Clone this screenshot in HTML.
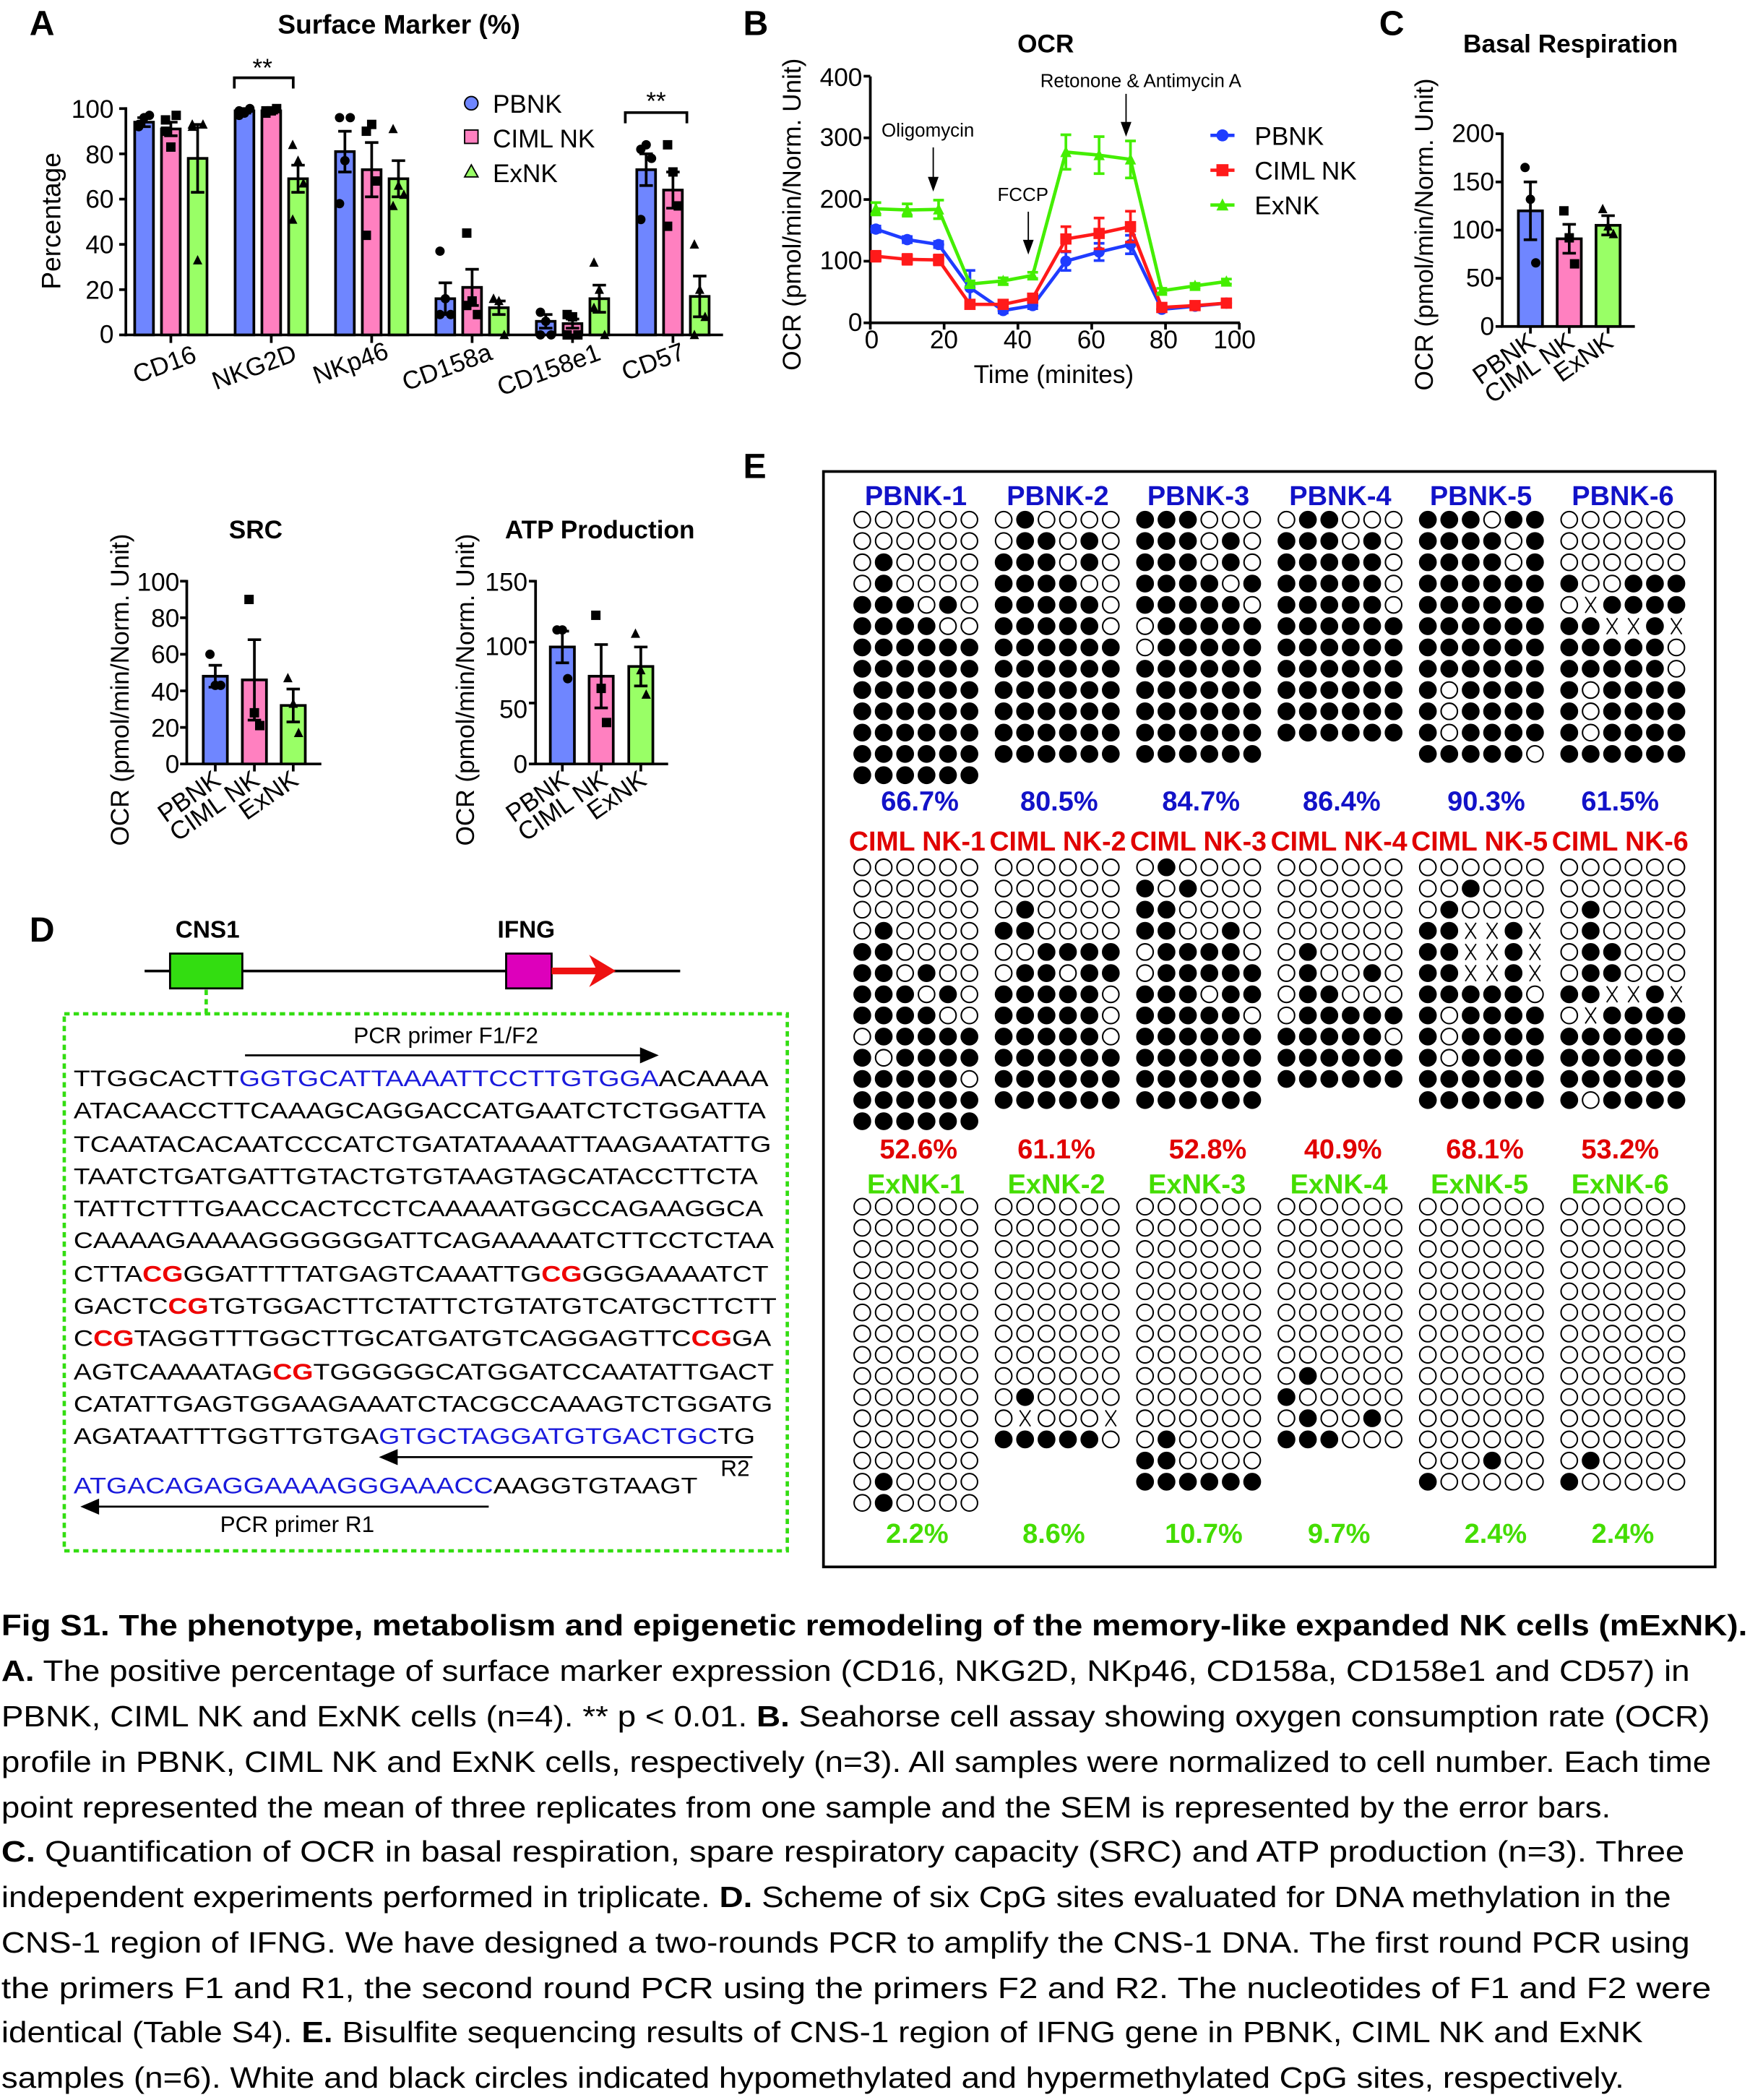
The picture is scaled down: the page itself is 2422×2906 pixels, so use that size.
<!DOCTYPE html>
<html><head><meta charset="utf-8"><style>
html,body{margin:0;padding:0;background:#fff}
svg{display:block}
text{font-family:"Liberation Sans",Arial,sans-serif}
</style></head><body>
<svg id="s" xmlns="http://www.w3.org/2000/svg" width="2422" height="2906" viewBox="0 0 1307 1568">
<rect width="1307" height="1568" fill="#fff"/>
<!-- Panel letters -->
<text x="22" y="26" font-size="26" font-weight="bold">A</text>
<text x="555" y="26" font-size="26" font-weight="bold">B</text>
<text x="1030" y="26" font-size="26" font-weight="bold">C</text>
<text x="22" y="703" font-size="26" font-weight="bold">D</text>
<text x="555" y="357" font-size="26" font-weight="bold">E</text>

<!-- Panel A -->
<text x="298" y="25" font-size="20" font-weight="bold" text-anchor="middle">Surface Marker (%)</text>
<text transform="translate(45,165) rotate(-90)" font-size="20" text-anchor="middle">Percentage</text>
<g font-size="19" text-anchor="end">
<text x="85" y="88">100</text><text x="85" y="122">80</text><text x="85" y="155">60</text><text x="85" y="189">40</text><text x="85" y="223">20</text><text x="85" y="256">0</text>
</g>
<g font-size="19" text-anchor="middle">
<text transform="translate(125,278) rotate(-20)">CD16</text>
<text transform="translate(192,280) rotate(-20)">NKG2D</text>
<text transform="translate(264,277) rotate(-20)">NKp46</text>
<text transform="translate(336,280) rotate(-20)">CD158a</text>
<text transform="translate(412,282) rotate(-20)">CD158e1</text>
<text transform="translate(490,276) rotate(-20)">CD57</text>
</g>
<text x="196" y="57" font-size="19" text-anchor="middle">**</text>
<path d="M175,66V58H219V66" fill="none" stroke="#000" stroke-width="2"/>
<text x="490" y="82" font-size="19" text-anchor="middle">**</text>
<path d="M467,92V84H513V92" fill="none" stroke="#000" stroke-width="2"/>
<circle cx="352" cy="77" r="5" fill="#6f86ff" stroke="#000" stroke-width="1"/>
<text x="368" y="84" font-size="19">PBNK</text>
<rect x="347" y="97" width="10" height="10" fill="#ff80c0" stroke="#000" stroke-width="1"/>
<text x="368" y="110" font-size="19">CIML NK</text>
<path d="M352,123 L357,132 L347,132Z" fill="#99ff66" stroke="#000" stroke-width="1"/>
<text x="368" y="136" font-size="19">ExNK</text>

<!-- Panel B -->
<text x="781" y="39" font-size="19" font-weight="bold" text-anchor="middle">OCR</text>
<text transform="translate(598,160) rotate(-90)" font-size="19" text-anchor="middle">OCR (pmol/min/Norm. Unit)</text>
<g font-size="19" text-anchor="end">
<text x="644" y="64">400</text><text x="644" y="109">300</text><text x="644" y="155">200</text><text x="644" y="201">100</text><text x="644" y="247">0</text>
</g>
<g font-size="19" text-anchor="middle">
<text x="651" y="260">0</text><text x="705" y="260">20</text><text x="760" y="260">40</text><text x="815" y="260">60</text><text x="869" y="260">80</text><text x="922" y="260">100</text>
</g>
<text x="787" y="286" font-size="19" text-anchor="middle">Time (minites)</text>
<text x="693" y="102" font-size="14" text-anchor="middle">Oligomycin</text>
<text x="764" y="150" font-size="14" text-anchor="middle">FCCP</text>
<text x="852" y="65" font-size="14" text-anchor="middle">Retonone &amp; Antimycin A</text>
<text x="937" y="108" font-size="19">PBNK</text>
<text x="937" y="134" font-size="19">CIML NK</text>
<text x="937" y="160" font-size="19">ExNK</text>

<!-- Panel C -->
<text x="1173" y="39" font-size="19" font-weight="bold" text-anchor="middle">Basal Respiration</text>
<text transform="translate(1070,175) rotate(-90)" font-size="19" text-anchor="middle">OCR (pmol/min/Norm. Unit)</text>
<g font-size="19" text-anchor="end">
<text x="1116" y="106">200</text><text x="1116" y="142">150</text><text x="1116" y="178">100</text><text x="1116" y="214">50</text><text x="1116" y="250">0</text>
</g>
<g font-size="19" text-anchor="end">
<text transform="translate(1148,258) rotate(-35)">PBNK</text>
<text transform="translate(1177,258) rotate(-35)">CIML NK</text>
<text transform="translate(1206,258) rotate(-35)">ExNK</text>
</g>

<!-- SRC -->
<text x="191" y="402" font-size="19" font-weight="bold" text-anchor="middle">SRC</text>
<text transform="translate(96,515) rotate(-90)" font-size="19" text-anchor="middle">OCR (pmol/min/Norm. Unit)</text>
<g font-size="19" text-anchor="end">
<text x="134" y="441">100</text><text x="134" y="468">80</text><text x="134" y="495">60</text><text x="134" y="523">40</text><text x="134" y="550">20</text><text x="134" y="577">0</text>
</g>
<g font-size="19" text-anchor="end">
<text transform="translate(166,585) rotate(-35)">PBNK</text>
<text transform="translate(195,585) rotate(-35)">CIML NK</text>
<text transform="translate(224,585) rotate(-35)">ExNK</text>
</g>
<!-- ATP -->
<text x="448" y="402" font-size="19" font-weight="bold" text-anchor="middle">ATP Production</text>
<text transform="translate(354,515) rotate(-90)" font-size="19" text-anchor="middle">OCR (pmol/min/Norm. Unit)</text>
<g font-size="19" text-anchor="end">
<text x="394" y="441">150</text><text x="394" y="489">100</text><text x="394" y="536">50</text><text x="394" y="577">0</text>
</g>
<g font-size="19" text-anchor="end">
<text transform="translate(426,585) rotate(-35)">PBNK</text>
<text transform="translate(455,585) rotate(-35)">CIML NK</text>
<text transform="translate(484,585) rotate(-35)">ExNK</text>
</g>

<!-- Panel D -->
<text x="155" y="700" font-size="18" font-weight="bold" text-anchor="middle">CNS1</text>
<text x="393" y="700" font-size="18" font-weight="bold" text-anchor="middle">IFNG</text>
<line x1="108" y1="725" x2="508" y2="725" stroke="#000" stroke-width="2"/>
<rect x="127" y="712" width="54" height="26" fill="#33dd11" stroke="#000" stroke-width="1.5"/>
<rect x="378" y="712" width="34" height="26" fill="#dd00bb" stroke="#000" stroke-width="1.5"/>
<line x1="412" y1="725" x2="448" y2="725" stroke="#ee1111" stroke-width="5"/>
<path d="M440,713 L460,725 L440,737 L446,725Z" fill="#ee1111"/>
<line x1="154" y1="739" x2="154" y2="757" stroke="#33dd11" stroke-width="2.5" stroke-dasharray="4,3"/>
<rect x="48" y="757" width="540" height="401" fill="none" stroke="#33dd11" stroke-width="2.5" stroke-dasharray="4,3"/>
<text x="333" y="779" font-size="17" text-anchor="middle">PCR primer F1/F2</text>
<line x1="183" y1="788" x2="486" y2="788" stroke="#000" stroke-width="1.5"/>
<path d="M492,788 L478,782 L478,794Z" fill="#000"/>
<g font-size="17">
<text x="55" y="811" textLength="519" lengthAdjust="spacingAndGlyphs">TTGGCACTT<tspan fill="#1a1adc">GGTGCATTAAAATTCCTTGTGGA</tspan>ACAAAA</text>
<text x="55" y="835" textLength="517" lengthAdjust="spacingAndGlyphs">ATACAACCTTCAAAGCAGGACCATGAATCTCTGGATTA</text>
<text x="55" y="860" textLength="521" lengthAdjust="spacingAndGlyphs">TCAATACACAATCCCATCTGATATAAAATTAAGAATATTG</text>
<text x="55" y="884" textLength="511" lengthAdjust="spacingAndGlyphs">TAATCTGATGATTGTACTGTGTAAGTAGCATACCTTCTA</text>
<text x="55" y="908" textLength="515" lengthAdjust="spacingAndGlyphs">TATTCTTTGAACCACTCCTCAAAAATGGCCAGAAGGCA</text>
<text x="55" y="932" textLength="523" lengthAdjust="spacingAndGlyphs">CAAAAGAAAAGGGGGGATTCAGAAAAATCTTCCTCTAA</text>
<text x="55" y="957" textLength="519" lengthAdjust="spacingAndGlyphs">CTTA<tspan fill="#ee0000" font-weight="bold">CG</tspan>GGATTTTATGAGTCAAATTG<tspan fill="#ee0000" font-weight="bold">CG</tspan>GGGAAAATCT</text>
<text x="55" y="981" textLength="525" lengthAdjust="spacingAndGlyphs">GACTC<tspan fill="#ee0000" font-weight="bold">CG</tspan>TGTGGACTTCTATTCTGTATGTCATGCTTCTT</text>
<text x="55" y="1005" textLength="521" lengthAdjust="spacingAndGlyphs">C<tspan fill="#ee0000" font-weight="bold">CG</tspan>TAGGTTTGGCTTGCATGATGTCAGGAGTTC<tspan fill="#ee0000" font-weight="bold">CG</tspan>GA</text>
<text x="55" y="1030" textLength="523" lengthAdjust="spacingAndGlyphs">AGTCAAAATAG<tspan fill="#ee0000" font-weight="bold">CG</tspan>TGGGGGCATGGATCCAATATTGACT</text>
<text x="55" y="1054" textLength="522" lengthAdjust="spacingAndGlyphs">CATATTGAGTGGAAGAAATCTACGCCAAAGTCTGGATG</text>
<text x="55" y="1078" textLength="509" lengthAdjust="spacingAndGlyphs">AGATAATTTGGTTGTGA<tspan fill="#1a1adc">GTGCTAGGATGTGACTGC</tspan>TG</text>
<text x="55" y="1115" textLength="466" lengthAdjust="spacingAndGlyphs"><tspan fill="#1a1adc">ATGACAGAGGAAAAGGGAAACC</tspan>AAGGTGTAAGT</text>
</g>
<line x1="290" y1="1088" x2="562" y2="1088" stroke="#000" stroke-width="1.5"/>
<path d="M283,1088 L297,1082 L297,1094Z" fill="#000"/>
<text x="549" y="1102" font-size="17" text-anchor="middle">R2</text>
<line x1="67" y1="1125" x2="365" y2="1125" stroke="#000" stroke-width="1.5"/>
<path d="M60,1125 L74,1119 L74,1131Z" fill="#000"/>
<text x="222" y="1144" font-size="17" text-anchor="middle">PCR primer R1</text>

<!-- Panel E -->
<rect x="615" y="352" width="666" height="818" fill="none" stroke="#000" stroke-width="2"/>
<g font-size="20.5" font-weight="bold" text-anchor="middle" fill="#1212c8">
<text x="684" y="377">PBNK-1</text><text x="790" y="377">PBNK-2</text><text x="895" y="377">PBNK-3</text><text x="1001" y="377">PBNK-4</text><text x="1106" y="377">PBNK-5</text><text x="1212" y="377">PBNK-6</text>
<text x="687" y="605">66.7%</text><text x="791" y="605">80.5%</text><text x="897" y="605">84.7%</text><text x="1002" y="605">86.4%</text><text x="1110" y="605">90.3%</text><text x="1210" y="605">61.5%</text>
</g>
<g font-size="20.5" font-weight="bold" text-anchor="middle" fill="#e00000">
<text x="685" y="635" textLength="102" lengthAdjust="spacingAndGlyphs">CIML NK-1</text><text x="790" y="635" textLength="102" lengthAdjust="spacingAndGlyphs">CIML NK-2</text><text x="895" y="635" textLength="102" lengthAdjust="spacingAndGlyphs">CIML NK-3</text><text x="1000" y="635" textLength="102" lengthAdjust="spacingAndGlyphs">CIML NK-4</text><text x="1105" y="635" textLength="102" lengthAdjust="spacingAndGlyphs">CIML NK-5</text><text x="1210" y="635" textLength="102" lengthAdjust="spacingAndGlyphs">CIML NK-6</text>
<text x="686" y="865">52.6%</text><text x="789" y="865">61.1%</text><text x="902" y="865">52.8%</text><text x="1003" y="865">40.9%</text><text x="1109" y="865">68.1%</text><text x="1210" y="865">53.2%</text>
</g>
<g font-size="20.5" font-weight="bold" text-anchor="middle" fill="#44dd00">
<text x="684" y="891">ExNK-1</text><text x="789" y="891">ExNK-2</text><text x="894" y="891">ExNK-3</text><text x="1000" y="891">ExNK-4</text><text x="1105" y="891">ExNK-5</text><text x="1210" y="891">ExNK-6</text>
<text x="685" y="1152">2.2%</text><text x="787" y="1152">8.6%</text><text x="899" y="1152">10.7%</text><text x="1000" y="1152">9.7%</text><text x="1117" y="1152">2.4%</text><text x="1212" y="1152">2.4%</text>
</g>

<!-- Caption -->
<g font-size="22">
<text x="1" y="1221" font-weight="bold" textLength="1304" lengthAdjust="spacingAndGlyphs">Fig S1. The phenotype, metabolism and epigenetic remodeling of the memory-like expanded NK cells (mExNK).</text>
<text x="1" y="1255" textLength="1261" lengthAdjust="spacingAndGlyphs"><tspan font-weight="bold">A.</tspan> The positive percentage of surface marker expression (CD16, NKG2D, NKp46, CD158a, CD158e1 and CD57) in</text>
<text x="1" y="1289" textLength="1276" lengthAdjust="spacingAndGlyphs">PBNK, CIML NK and ExNK cells (n=4). ** p &lt; 0.01. <tspan font-weight="bold">B.</tspan> Seahorse cell assay showing oxygen consumption rate (OCR)</text>
<text x="1" y="1323" textLength="1277" lengthAdjust="spacingAndGlyphs">profile in PBNK, CIML NK and ExNK cells, respectively (n=3). All samples were normalized to cell number. Each time</text>
<text x="1" y="1357" textLength="1202" lengthAdjust="spacingAndGlyphs">point represented the mean of three replicates from one sample and the SEM is represented by the error bars.</text>
<text x="1" y="1390" textLength="1257" lengthAdjust="spacingAndGlyphs"><tspan font-weight="bold">C.</tspan> Quantification of OCR in basal respiration, spare respiratory capacity (SRC) and ATP production (n=3). Three</text>
<text x="1" y="1424" textLength="1247" lengthAdjust="spacingAndGlyphs">independent experiments performed in triplicate. <tspan font-weight="bold">D.</tspan> Scheme of six CpG sites evaluated for DNA methylation in the</text>
<text x="1" y="1458" textLength="1261" lengthAdjust="spacingAndGlyphs">CNS-1 region of IFNG. We have designed a two-rounds PCR to amplify the CNS-1 DNA. The first round PCR using</text>
<text x="1" y="1492" textLength="1277" lengthAdjust="spacingAndGlyphs">the primers F1 and R1, the second round PCR using the primers F2 and R2. The nucleotides of F1 and F2 were</text>
<text x="1" y="1525" textLength="1226" lengthAdjust="spacingAndGlyphs">identical (Table S4). <tspan font-weight="bold">E.</tspan> Bisulfite sequencing results of CNS-1 region of IFNG gene in PBNK, CIML NK and ExNK</text>
<text x="1" y="1559" textLength="1212" lengthAdjust="spacingAndGlyphs">samples (n=6). White and black circles indicated hypomethylated and hypermethylated CpG sites, respectively.</text>
</g>
<g id="dyn"></g>
</svg>
<script>
(function(){
var G=document.getElementById("dyn"),h="";
function L(x1,y1,x2,y2,c,w){h+='<line x1="'+x1+'" y1="'+y1+'" x2="'+x2+'" y2="'+y2+'" stroke="'+(c||"#000")+'" stroke-width="'+(w||2)+'"/>';}
function R(x,y,w,hh,f){h+='<rect x="'+x+'" y="'+y+'" width="'+w+'" height="'+hh+'" fill="'+f+'" stroke="#000" stroke-width="2"/>';}
function mk(t,x,y,s,f){s=s||3.5;f=f||"#000";
 if(t==0)h+='<circle cx="'+x+'" cy="'+y+'" r="'+s+'" fill="'+f+'"/>';
 else if(t==1)h+='<rect x="'+(x-s)+'" y="'+(y-s)+'" width="'+2*s+'" height="'+2*s+'" fill="'+f+'"/>';
 else h+='<path d="M'+x+','+(y-s*1.1)+' L'+(x+s)+','+(y+s*0.9)+' L'+(x-s)+','+(y+s*0.9)+'Z" fill="'+f+'"/>';}
var cols=["#6f86ff","#ff80c0","#99ff66"];
function barset(y0f,cx,w,vals,errs,pts){
 var yb=y0f(0);
 for(var i=0;i<3;i++){var x=cx[i],yt=y0f(vals[i]);R(x-w/2,yt,w,yb-yt,cols[i]);
  var e=errs[i];L(x,y0f(vals[i]-e),x,y0f(vals[i]+e));L(x-5,y0f(vals[i]+e),x+5,y0f(vals[i]+e));L(x-5,y0f(vals[i]-e),x+5,y0f(vals[i]-e));
  (pts[i]||[]).forEach(function(p,j){mk(i,x+((j%3)-1)*4,y0f(p),3.5);});}
}
var yA=function(v){return 250-v*1.69;};
L(94,80,94,251);L(93,250,540,250);
[0,20,40,60,80,100].forEach(function(v){L(89,yA(v),94,yA(v));});
var A=[[94,91,78],[99,99,69],[81,73,69],[16,21,12],[6,5,16],[73,64,17]];
var AE=[[2,3,15],[1,1,6],[9,12,8],[7,8,3],[3,2,6],[7,8,9]];
var AP=[[[92,96,97,93],[95,83,97,90],[92,33,93,93]],[[99,98,100,97],[99,99,100,98],[84,77,67,51]],[[96,77,96,58],[90,93,68,44],[91,66,62,57]],[[37,16,9,9],[45,15,9,13],[16,15,0,16]],[[10,6,0,0],[9,8,0,0],[32,20,0,12]],[[82,84,78,51],[84,72,57,48],[40,20,8,0]]];
for(var g=0;g<6;g++){var t=127.6+g*75;L(t,250,t,256);barset(yA,[t-20,t,t+20],14,A[g],AE[g],AP[g]);}
var xB=function(t){return 650+t*2.756;},yB=function(v){return 241-v*0.4605;};
L(650,57,650,242);L(649,241,926,241);
[0,100,200,300,400].forEach(function(v){L(645,yB(v),650,yB(v));});
[0,20,40,60,80,100].forEach(function(v){L(xB(v),241,xB(v),246);});
var T=[1.5,10,18.5,27,36,44,53,62,70.5,79,88,96.5];
var S=[[152,135,127,57,20,28,100,115,127,22,27,32],[108,103,102,30,30,40,136,145,156,25,28,32],[185,183,184,63,68,77,277,272,265,52,60,67]];
var SE=[[5,5,5,28,4,5,15,14,15,4,4,6],[8,8,8,5,5,5,20,25,25,4,4,4],[10,10,15,5,5,5,28,30,30,4,4,4]];
var lc=["#1f3cff","#ff1a1a","#44ee00"];
for(var s=0;s<3;s++){var d="";for(var i=0;i<12;i++){d+=(i?"L":"M")+xB(T[i])+","+yB(S[s][i]);}
 h+='<path d="'+d+'" fill="none" stroke="'+lc[s]+'" stroke-width="2.5"/>';
 for(var i=0;i<12;i++){var x=xB(T[i]),a=yB(S[s][i]+SE[s][i]),b=yB(S[s][i]-SE[s][i]);L(x,a,x,b,lc[s],2);L(x-4,a,x+4,a,lc[s],2);L(x-4,b,x+4,b,lc[s],2);mk(s,x,yB(S[s][i]),4.2,lc[s]);}}
L(697,110,697,137,"#000",1);h+='<path d="M697,143 L693,132 L701,132Z"/>';
L(768,158,768,184,"#000",1);h+='<path d="M768,190 L764,179 L772,179Z"/>';
L(841,70,841,96,"#000",1);h+='<path d="M841,102 L837,91 L845,91Z"/>';
for(var s=0;s<3;s++){var y=101+s*26;L(904,y,922,y,lc[s],2.5);mk(s,913,y,4.5,lc[s]);}
var yC=function(v){return 243.7-v*0.7195;};
L(1122,99,1122,244);L(1121,243.7,1221,243.7);
[0,50,100,150,200].forEach(function(v){L(1117,yC(v),1122,yC(v));});
[1143,1172,1201].forEach(function(x){L(x,243.7,x,249);});
barset(yC,[1143,1172,1201],18,[120,91,105],[30,15,10],[[165,132,66],[120,92,65],[122,104,96]]);
var yS=function(v){return 570.4-v*1.365;};
L(139.5,433,139.5,571);L(138.5,570.4,240,570.4);
[0,20,40,60,80,100].forEach(function(v){L(134.5,yS(v),139.5,yS(v));});
[160.8,190,219].forEach(function(x){L(x,570.4,x,576);});
barset(yS,[160.8,190,219],18,[48,46,32],[6,22,9],[[60,43,43],[90,28,21],[47,33,17]]);
var yT=function(v){return 570.4-v*0.91;};
L(400,433,400,571);L(399,570.4,499,570.4);
[0,50,100,150].forEach(function(v){L(395,yT(v),400,yT(v));});
[420,449,478.6].forEach(function(x){L(x,570.4,x,576);});
barset(yT,[420,449,478.6],18,[96,72,80],[13,26,16],[[110,110,70],[122,62,34],[107,77,57]]);
function expand(arr){var o=[];arr.forEach(function(r){var m=/^(\S+)\*(\d+)$/.exec(r);if(m){for(var k=0;k<+m[2];k++)o.push(m[1]);}else o.push(r);});return o;}
var P=[
[["000000","000000","010000","010000","111010","111100","111111*7"],
 ["010000","011010","111010","111100","111110","111110","111111*6"],
 ["111000","111010","111010","111101","111110","011111","011111","111111*5"],
 ["011000","111010","111110","111110","111110","111111*6"],
 ["111011","111101","111101","111111*5","101111","101111","101111","111110"],
 ["000000","000000","000000","100111","0x1111","11xx1x","111110","111110","101111","101111","101111","111111"]],
[["000000","000000","000000","010000","110000","110100","111010","111100","011111","101111","111110","111111","111111"],
 ["000000","000000","010000","110000","001111","011011","111110","111110","111110","111111*3"],
 ["010000","101000","110000","110010","011110","011111","111011","111110","111111*4"],
 ["000000*4","010000","010010","011000","011111","111110","111111*2"],
 ["000000","001000","010000","11xx1x","11xx1x","11xx1x","111110","101111","101111","101111","111111*2"],
 ["000000","000000","010000","010000","011000","011000","11xx1x","0x1111","111111*3","101111"]],
[["000000*13","010000","010000"],
 ["000000*9","010000","0x000x","111110"],
 ["000000*11","010000","110000","111111"],
 ["000000*8","010000","100000","010010","111000"],
 ["000000*12","000100","100000"],
 ["000000*12","010000","100000"]]];
var base=[388,647.6,901],pitch=[15.9,15.8,15.8];
for(var sec=0;sec<3;sec++)for(var g=0;g<6;g++){var rows=expand(P[sec][g]);
 for(var r=0;r<rows.length;r++)for(var c=0;c<6;c++){var x=644+g*105.6+c*16,y=base[sec]+r*pitch[sec],ch=rows[r][c];
  if(ch=="x"){L(x-4,y-6,x+4,y+6,"#000",1);L(x+4,y-6,x-4,y+6,"#000",1);}
  else h+='<circle cx="'+x+'" cy="'+y+'" r="6.1" fill="'+(ch=="1"?"#000":"#fff")+'" stroke="#000" stroke-width="1.1"/>';}}
G.innerHTML=h;
})();
</script>
</body></html>
